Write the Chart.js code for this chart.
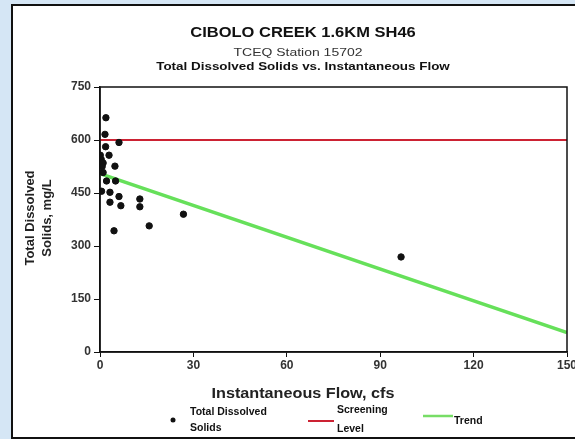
<!DOCTYPE html>
<html>
<head>
<meta charset="utf-8">
<script src="https://cdn.jsdelivr.net/npm/chart.js@4"></script>
<style>
  html, body { margin: 0; padding: 0; background: #d5e6f5; overflow: hidden; }
  #box { position: absolute; left: 11px; top: 4px; width: 600px; height: 431px;
         border: 2px solid #111; background: #fff; }
  canvas { display: block; }
</style>
</head>
<body>
<div id="box"><canvas id="chart" width="600" height="431"></canvas></div>
<script>
// flow (cfs) and total dissolved solids (mg/L)
const flow = [1.9, 1.6, 6.1, 1.8, 0.1, 2.9, 0.4, 1.0, 0.7, 4.8, 1.0, 2.1, 5.0, 0.5, 3.2, 6.1, 3.2, 6.7, 12.8, 12.8, 26.8, 4.5, 15.8, 96.7];
const tds  = [663, 616, 593, 581, 557, 557, 545, 535, 525, 526, 508, 484, 484, 455, 452, 440, 424, 414, 433, 411, 390, 343, 357, 269];
const screeningX = [0, 150];
const screeningY = [600, 600];
const trendX = [0, 150];
const trendY = [505, 55];
const xTicks = [0, 30, 60, 90, 120, 150];
const yTicks = [0, 150, 300, 450, 600, 750];

const FONT = 'Arial, "Liberation Sans", sans-serif';
const pts = (xs, ys) => xs.map((x, i) => ({ x: x, y: ys[i] }));

// text squeezed/stretched sideways like the scanned original
function text(ctx, s, x, y, font, sx) {
  ctx.save();
  ctx.translate(x, y);
  ctx.scale(sx || 1, 1);
  ctx.font = font;
  ctx.fillText(s, 0, 0);
  ctx.restore();
}

const decor = {
  id: 'decor',
  afterDraw(chart) {
    const ctx = chart.ctx;
    const a = chart.chartArea;
    ctx.save();
    ctx.strokeStyle = '#111';
    ctx.lineWidth = 1.5;
    ctx.strokeRect(a.left, a.top, a.right - a.left, a.bottom - a.top);

    ctx.fillStyle = '#111';
    ctx.textAlign = 'center';
    ctx.textBaseline = 'middle';
    text(ctx, 'CIBOLO CREEK 1.6KM SH46', 290, 27, 'bold 15px ' + FONT, 1.1);
    ctx.fillStyle = '#333';
    text(ctx, 'TCEQ Station 15702', 285, 47, '11px ' + FONT, 1.27);
    ctx.fillStyle = '#111';
    text(ctx, 'Total Dissolved Solids vs. Instantaneous Flow', 290, 61, 'bold 11px ' + FONT, 1.22);

    ctx.fillStyle = '#222';
    text(ctx, 'Instantaneous Flow, cfs', 290, 388, 'bold 15px ' + FONT, 1.08);

    ctx.save();
    ctx.translate(24, 212);
    ctx.rotate(-Math.PI / 2);
    ctx.font = 'bold 13px ' + FONT;
    ctx.fillText('Total Dissolved', 0, -7);
    ctx.fillText('Solids, mg/L', 0, 10);
    ctx.restore();

    // legend
    ctx.textAlign = 'left';
    ctx.fillStyle = '#111';
    ctx.beginPath();
    ctx.arc(160, 414, 2.5, 0, Math.PI * 2);
    ctx.fill();
    const lf = 'bold 10px ' + FONT;
    text(ctx, 'Total Dissolved', 177, 406, lf, 1.05);
    text(ctx, 'Solids', 177, 422, lf, 1.05);
    ctx.strokeStyle = '#cc2233';
    ctx.lineWidth = 2;
    ctx.beginPath(); ctx.moveTo(295, 415); ctx.lineTo(321, 415); ctx.stroke();
    text(ctx, 'Screening', 324, 404, lf, 1.05);
    text(ctx, 'Level', 324, 423, lf, 1.05);
    ctx.strokeStyle = '#77dd66';
    ctx.lineWidth = 2.5;
    ctx.beginPath(); ctx.moveTo(410, 410); ctx.lineTo(440, 410); ctx.stroke();
    text(ctx, 'Trend', 441, 415, lf, 1.05);
    ctx.restore();
  }
};

new Chart(document.getElementById('chart'), {
  type: 'scatter',
  data: {
    datasets: [
      {
        label: 'Trend',
        type: 'line',
        data: pts(trendX, trendY),
        borderColor: '#66e05a',
        borderWidth: 3.5,
        pointRadius: 0,
        fill: false,
        order: 3
      },
      {
        label: 'Screening Level',
        type: 'line',
        data: pts(screeningX, screeningY),
        borderColor: '#cc2233',
        borderWidth: 1.8,
        pointRadius: 0,
        fill: false,
        order: 2
      },
      {
        label: 'Total Dissolved Solids',
        data: pts(flow, tds),
        backgroundColor: '#111',
        borderColor: '#111',
        pointRadius: 3.2,
        order: 1
      }
    ]
  },
  options: {
    responsive: false,
    animation: false,
    layout: { padding: { top: 81, left: 0, right: 46, bottom: 0 } },
    plugins: { legend: { display: false }, title: { display: false }, tooltip: { enabled: false } },
    scales: {
      x: {
        type: 'linear',
        min: 0, max: 150,
        afterBuildTicks: s => { s.ticks = xTicks.map(v => ({ value: v })); },
        afterFit: s => { s.height = 85; },
        grid: { drawOnChartArea: false, tickLength: 5, color: '#111' },
        border: { color: '#111', width: 1.5 },
        ticks: { color: '#333', padding: 1, font: { size: 12, weight: 'bold', family: FONT } }
      },
      y: {
        min: 0, max: 750,
        afterBuildTicks: s => { s.ticks = yTicks.map(v => ({ value: v })); },
        afterFit: s => { s.width = 87; },
        grid: { drawOnChartArea: false, tickLength: 6, color: '#111' },
        border: { color: '#111', width: 1.5 },
        ticks: { color: '#333', padding: 3, font: { size: 12, weight: 'bold', family: FONT } }
      }
    }
  },
  plugins: [decor]
});
</script>
</body>
</html>
